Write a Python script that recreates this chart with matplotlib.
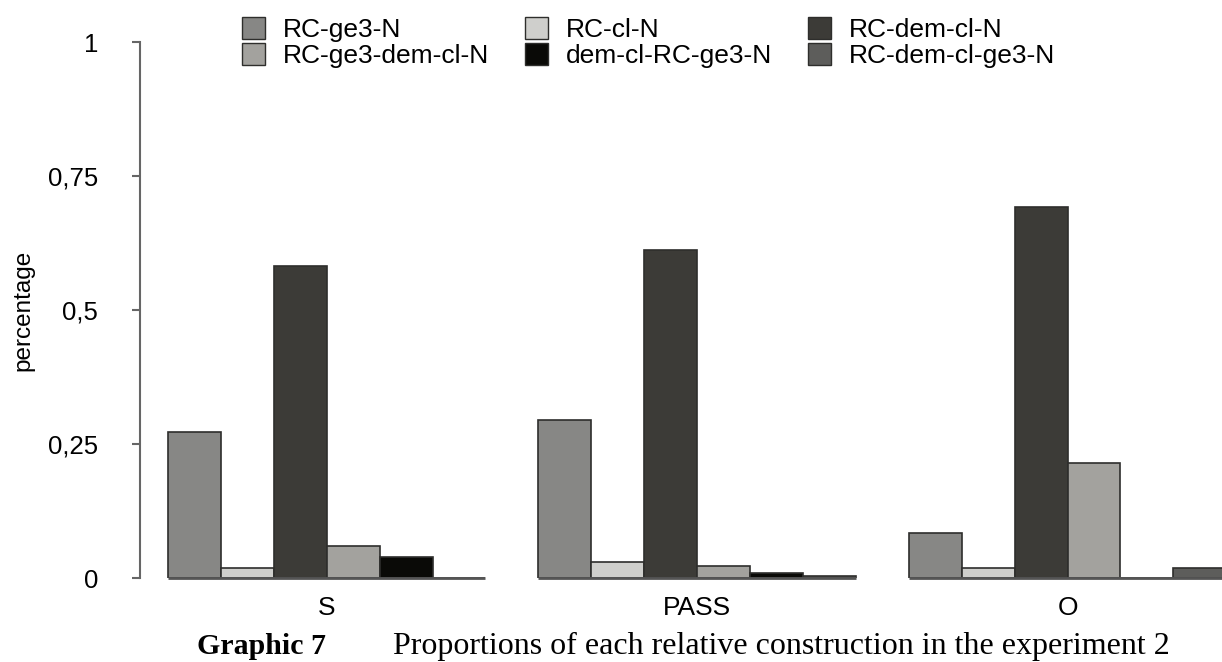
import numpy as np
import matplotlib
matplotlib.use("Agg")
import matplotlib.pyplot as plt
from matplotlib.patches import Patch

plt.rcParams['font.family'] = ['Liberation Sans', 'DejaVu Sans']

groups = ["S", "PASS", "O"]
series = ["RC-ge3-N", "RC-cl-N", "RC-dem-cl-N",
          "RC-ge3-dem-cl-N", "dem-cl-RC-ge3-N", "RC-dem-cl-ge3-N"]
colors = ["#878785", "#cfcfcc", "#3c3b37", "#a3a29e", "#0a0a07", "#5d5d5b"]

# one row per series, one column per group (S, PASS, O)
values = [
    [0.273, 0.294, 0.084],   # RC-ge3-N
    [0.019, 0.029, 0.018],   # RC-cl-N
    [0.582, 0.612, 0.692],   # RC-dem-cl-N
    [0.059, 0.023, 0.215],   # RC-ge3-dem-cl-N
    [0.039, 0.009, 0.0],     # dem-cl-RC-ge3-N
    [0.0, 0.003, 0.019],     # RC-dem-cl-ge3-N
]
yticks = [0, 0.25, 0.5, 0.75, 1]
ytick_labels = ["0", "0,25", "0,5", "0,75", "1"]

W, H = 1222, 662
fig = plt.figure(figsize=(W / 100, H / 100), dpi=100)
ax = fig.add_axes([140 / W, (H - 578) / H, (W - 140) / W, 536 / H])

pitch = len(series) + 1
handles = []
for i, name in enumerate(series):
    x = np.arange(len(groups)) * pitch + i
    ax.bar(x, values[i], width=1.0, color=colors[i], edgecolor="#2e2e2c",
           linewidth=1.2)
    handles.append(Patch(facecolor=colors[i], edgecolor="#2e2e2c", label=name))

# baseline under each group
for g in range(len(groups)):
    ax.hlines(0, g * pitch - 0.5, g * pitch + len(series) - 0.5,
              color="#555555", linewidth=2, clip_on=False)

ax.set_xlim(-1.03, 19.42)
ax.set_ylim(0, 1)
ax.set_xticks(np.arange(len(groups)) * pitch + (len(series) - 1) / 2)
ax.set_xticklabels(groups, fontsize=19)
ax.tick_params(axis="x", length=0, pad=13)
ax.set_yticks(yticks)
ax.set_yticklabels(ytick_labels, fontsize=18.5)
ax.tick_params(axis="y", length=6, width=1.5, color="#666666", pad=24)
ax.set_ylabel("percentage", fontsize=17.5)
ax.yaxis.set_label_coords(-106 / (W - 140), 0.5)
for s in ["top", "right", "bottom"]:
    ax.spines[s].set_visible(False)
ax.spines["left"].set_color("#666666")
ax.spines["left"].set_linewidth(1.5)

order = [0, 3, 1, 4, 2, 5]
fig.legend([handles[k] for k in order], [series[k] for k in order],
           ncol=3, loc="upper left", bbox_to_anchor=(229 / W, 1 - 4 / H),
           frameon=False, fontsize=19, handlelength=0.87, handleheight=0.87,
           handletextpad=0.68, columnspacing=1.36, labelspacing=0.05,
           borderpad=0)

fig.text(197 / W, 1 - 654 / H, "Graphic 7", family="Liberation Serif",
         weight="bold", fontsize=21.5, va="baseline", ha="left")
fig.text(393 / W, 1 - 654 / H,
         "Proportions of each relative construction in the experiment 2",
         family="Liberation Serif", fontsize=23, va="baseline", ha="left")

fig.savefig("out.png", dpi=100)
